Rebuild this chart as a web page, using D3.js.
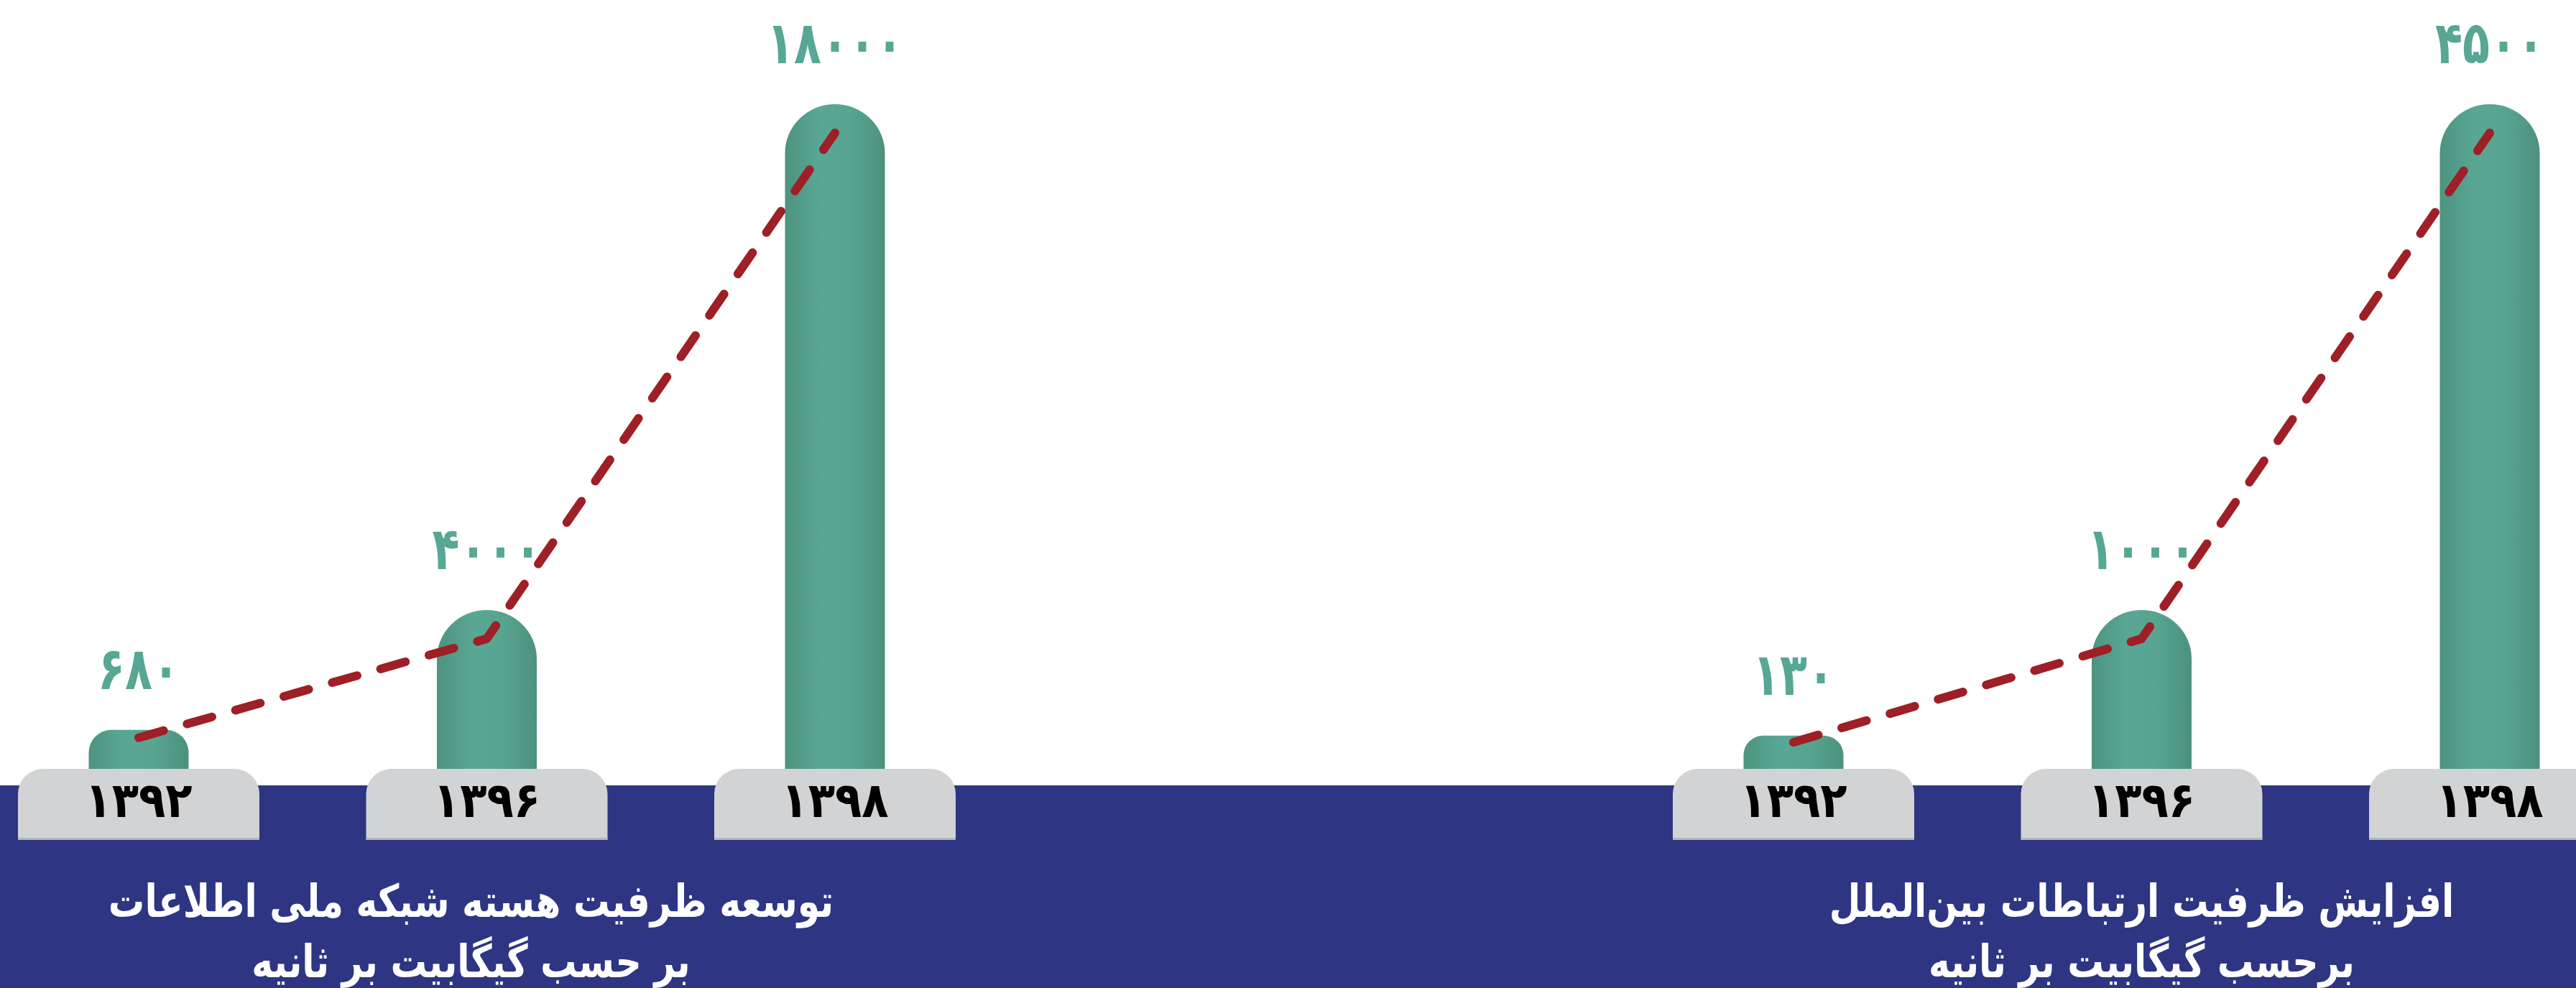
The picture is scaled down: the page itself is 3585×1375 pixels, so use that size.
<!DOCTYPE html>
<html>
<head>
<meta charset="utf-8">
<script src="https://cdn.jsdelivr.net/npm/d3@7"></script>
<style>
  html, body { margin: 0; padding: 0; background: #fff; }
  svg { display: block; }
  text { font-family: "DejaVu Sans", sans-serif; font-weight: bold; }
</style>
</head>
<body>
<svg id="chart"></svg>
<script>
// داده‌ها
var years = ["۱۳۹۲", "۱۳۹۶", "۱۳۹۸"];
var coreValues = [680, 4000, 18000];      // ظرفیت هسته شبکه ملی اطلاعات
var intlValues = [130, 1000, 4500];       // ظرفیت ارتباطات بین‌الملل
var coreTitle = ["توسعه ظرفیت هسته شبکه ملی اطلاعات", "بر حسب گیگابیت بر ثانیه"];
var intlTitle = ["افزایش ظرفیت ارتباطات بین‌الملل", "برحسب گیگابیت بر ثانیه"];

var W = 3585, H = 1375;
var baseY = 1070;      // بالای جعبه سال
var bandY = 1093;      // شروع نوار سرمه‌ای
var boxH = 99;
var barW = 139;

var svg = d3.select("#chart").attr("width", W).attr("height", H);

// گرادیان ستون‌ها
var defs = svg.append("defs");
var grad = defs.append("linearGradient").attr("id", "barGrad")
  .attr("x1", "0").attr("x2", "1").attr("y1", "0").attr("y2", "0");
grad.append("stop").attr("offset", "0%").attr("stop-color", "#4d9380");
grad.append("stop").attr("offset", "35%").attr("stop-color", "#59a794");
grad.append("stop").attr("offset", "65%").attr("stop-color", "#57a591");
grad.append("stop").attr("offset", "100%").attr("stop-color", "#4c917e");

svg.append("rect").attr("x", 0).attr("y", bandY).attr("width", W).attr("height", H - bandY)
  .attr("fill", "#2e3583");

function toFa(n) {
  return String(n).replace(/\d/g, function(d){ return "۰۱۲۳۴۵۶۷۸۹"[+d]; });
}

function topRounded(x, y, w, h, rx, ry) {
  return "M" + x + "," + (y + h) +
    "L" + x + "," + (y + ry) +
    "A" + rx + "," + ry + " 0 0 1 " + (x + rx) + "," + y +
    "L" + (x + w - rx) + "," + y +
    "A" + rx + "," + ry + " 0 0 1 " + (x + w) + "," + (y + ry) +
    "L" + (x + w) + "," + (y + h) + "Z";
}

function drawChart(x0, values, title, titleShift) {
  var g = svg.append("g");

  var x = d3.scaleBand().domain(years).range([x0, x0 + 1305]).paddingInner(0.3065).paddingOuter(0);
  var y = d3.scaleLinear().domain([0, d3.max(values)]).range([baseY - 20, 145]);

  var rows = years.map(function(yr, i){ return {year: yr, value: values[i]}; });
  function cx(d) { return x(d.year) + x.bandwidth() / 2; }

  // ستون‌ها
  g.selectAll(".bar").data(rows).enter()
    .append("path").classed("bar", 1)
    .attr("d", function(d){
      var top = y(d.value), h = baseY + 3 - top;
      var rx = Math.min(barW / 2, h * 0.55), ry = Math.min(68, h * 0.55);
      return topRounded(cx(d) - barW / 2, top, barW, h, rx, ry);
    })
    .attr("fill", "url(#barGrad)");

  // جعبه سال‌ها
  g.selectAll(".box").data(rows).enter()
    .append("path").classed("box", 1)
    .attr("d", function(d){ return topRounded(x(d.year), baseY, x.bandwidth(), boxH, 35, 35); })
    .attr("fill", "#d1d3d5");
  g.selectAll(".boxline").data(rows).enter()
    .append("rect").classed("boxline", 1)
    .attr("x", function(d){ return x(d.year); }).attr("y", baseY + boxH - 3)
    .attr("width", x.bandwidth()).attr("height", 3)
    .attr("fill", "#b3b6bc");

  g.selectAll(".year").data(rows).enter()
    .append("text").classed("year", 1)
    .attr("transform", function(d){ return "translate(" + cx(d) + "," + (baseY + 67) + ") scale(0.9,1)"; })
    .attr("text-anchor", "middle")
    .attr("font-size", 68)
    .attr("fill", "#000")
    .text(function(d){ return d.year; });

  // خط روند
  var line = d3.line()
    .x(cx)
    .y(function(d){ var t = y(d.value); return t + Math.min(40, (baseY - t) * 0.2); });
  g.append("path").datum(rows)
    .attr("d", line)
    .attr("fill", "none")
    .attr("stroke", "#9e1f26")
    .attr("stroke-width", 12)
    .attr("stroke-linecap", "round")
    .attr("stroke-linejoin", "round")
    .attr("stroke-dasharray", "36,34");

  // برچسب مقادیر
  g.selectAll(".val").data(rows).enter()
    .append("text").classed("val", 1)
    .attr("transform", function(d){ return "translate(" + cx(d) + "," + (y(d.value) - 57) + ") scale(0.76,1)"; })
    .attr("text-anchor", "middle")
    .attr("font-size", 82)
    .attr("fill", "#57a794")
    .text(function(d){ return toFa(d.value); });

  // عنوان
  var mid = x(years[1]) + x.bandwidth() / 2 + titleShift;
  g.selectAll(".title").data(title).enter()
    .append("text").classed("title", 1)
    .attr("transform", function(d, i){ return "translate(" + mid + "," + (1276 + i * 84) + ") scale(0.8,1)"; })
    .attr("text-anchor", "middle")
    .attr("direction", "rtl")
    .attr("font-size", 63)
    .attr("fill", "#fff")
    .text(function(d){ return d; });
}

drawChart(25, coreValues, coreTitle, -22);
drawChart(2328, intlValues, intlTitle, 0);
</script>
</body>
</html>
